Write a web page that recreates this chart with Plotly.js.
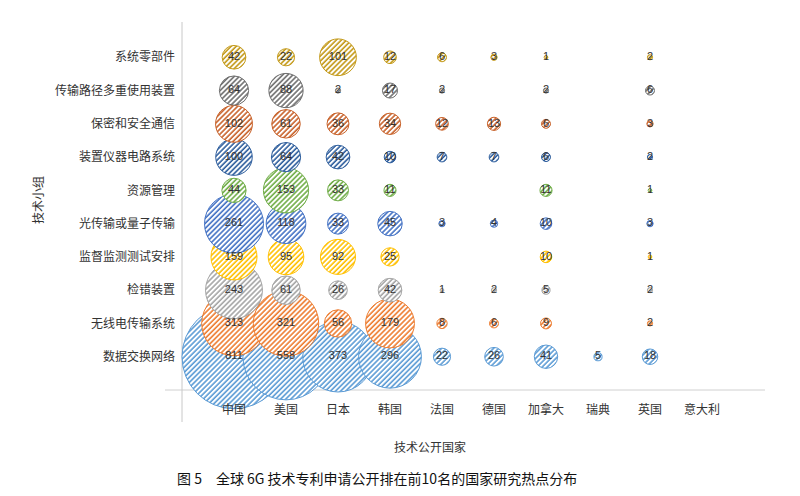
<!DOCTYPE html>
<html>
<head>
<meta charset="utf-8">
<script src="https://cdn.plot.ly/plotly-3.0.1.min.js"></script>
<style>
html,body{margin:0;padding:0;background:#ffffff;}
#chart{width:800px;height:496px;}
</style>
</head>
<body>
<div id="chart"></div>
<script>
// ---------- data ----------
const countries = ['中国','美国','日本','韩国','法国','德国','加拿大','瑞典','英国','意大利'];
// technology groups, bottom row first
const groups = ['数据交换网络','无线电传输系统','检错装置','监督监测测试安排','光传输或量子传输',
                '资源管理','装置仪器电路系统','保密和安全通信','传输路径多重使用装置','系统零部件'];
const dataExchange      = [811,558,373,296,22,26,41,5,18,null];
const radioTransmission = [313,321,56,179,8,6,9,null,2,null];
const errorDetection    = [243,61,26,42,1,2,5,null,2,null];
const monitoringTesting = [159,95,92,25,null,null,10,null,1,null];
const opticalQuantum    = [261,118,33,45,3,4,10,null,3,null];
const resourceMgmt      = [44,153,33,11,null,null,11,null,1,null];
const deviceCircuit     = [100,64,42,10,7,7,6,null,2,null];
const secureComm        = [102,61,36,34,12,13,6,null,3,null];
const multiplexing      = [64,88,2,17,2,null,2,null,6,null];
const systemParts       = [42,22,101,12,6,3,1,null,2,null];
const seriesValues = [dataExchange, radioTransmission, errorDetection, monitoringTesting, opticalQuantum,
                      resourceMgmt, deviceCircuit, secureComm, multiplexing, systemParts];

// ---------- styles ----------
const colors = ['#5B9BD5','#ED7D31','#A5A5A5','#FFC000','#4472C4',
                '#70AD47','#2F5F9E','#C8622A','#6E6E6E','#C49A1A'];
const maxDiameter = 104;
const maxValue = 811;
const sizeref = 2 * maxValue / (maxDiameter * maxDiameter);

const markerTraces = [];
const textTraces = [];
seriesValues.forEach(function(vals, gi){
  const xs = [], ys = [], ss = [], ts = [];
  vals.forEach(function(v, ci){
    if (v === null || v === undefined) return;
    xs.push(ci + 1); ys.push(gi + 1); ss.push(v); ts.push(String(v));
  });
  markerTraces.push({
    type:'scatter', mode:'markers', name: groups[gi],
    x: xs, y: ys, hoverinfo:'skip', cliponaxis:false, showlegend:false,
    marker:{size: ss, sizemode:'area', sizeref: sizeref, sizemin:0,
            color: colors[gi], opacity:1, line:{color: colors[gi], width:1}}
  });
  textTraces.push({
    type:'scatter', mode:'text', name: groups[gi] + ' 标签',
    x: xs, y: ys, text: ts, hoverinfo:'skip', cliponaxis:false, showlegend:false,
    textposition:'middle center',
    textfont:{family:'Liberation Sans, Arial, sans-serif', size:11, color:'#333333'}
  });
});

const W = 572, H = 366, L = 182, T = 24;
function px(xp){ return (xp - L) / W; }
function py(yp){ return (T + H - yp) / H; }

const cjk = '"Noto Sans CJK SC", "Noto Sans", sans-serif';
const layout = {
  width:800, height:496,
  margin:{l:L, r:800 - L - W, t:T, b:496 - T - H},
  paper_bgcolor:'#ffffff', plot_bgcolor:'#ffffff',
  showlegend:false,
  xaxis:{range:[0,11], tickvals:countries.map((c,i)=>i+1), ticktext:countries,
         showgrid:false, zeroline:false, showline:false, ticks:'', ticklabelstandoff:11,
         tickfont:{family:cjk, size:12, color:'#333333'}, fixedrange:true},
  yaxis:{range:[0,11], tickvals:groups.map((g,i)=>i+1), ticktext:groups,
         showgrid:false, zeroline:false, showline:false, ticks:'', ticklabelstandoff:6,
         tickfont:{family:cjk, size:12, color:'#333333'}, fixedrange:true},
  shapes:[
    {type:'line', xref:'paper', yref:'paper', x0:px(165), x1:px(765), y0:0, y1:0,
     line:{color:'#d0d0d0', width:1}, layer:'below'},
    {type:'line', xref:'paper', yref:'paper', x0:0, x1:0, y0:py(422), y1:py(22),
     line:{color:'#c8c8c8', width:1}, layer:'below'}
  ],
  annotations:[
    {text:'技术公开国家', xref:'paper', yref:'paper', x:px(430), y:py(446),
     xanchor:'center', yanchor:'middle', showarrow:false,
     font:{family:cjk, size:12, color:'#333333'}},
    {text:'技术小组', xref:'paper', yref:'paper', x:px(37), y:py(200), textangle:-90,
     xanchor:'center', yanchor:'middle', showarrow:false,
     font:{family:cjk, size:12, color:'#333333'}},
    {text:'图 5　全球 6G 技术专利申请公开排在前10名的国家研究热点分布', xref:'paper', yref:'paper',
     x:px(175), y:py(478), xanchor:'left', yanchor:'middle', showarrow:false,
     font:{family:cjk, size:14, color:'#111111'}}
  ]
};

const gd = document.getElementById('chart');

function applyPatterns(){
  const svg = gd.querySelector('svg.main-svg');
  if (!svg) return;
  const ns = 'http://www.w3.org/2000/svg';
  let defs = svg.querySelector('defs#hatchdefs');
  if (!defs){
    defs = document.createElementNS(ns, 'defs');
    defs.setAttribute('id', 'hatchdefs');
    colors.forEach(function(c, i){
      const p = document.createElementNS(ns, 'pattern');
      p.setAttribute('id', 'hatch' + i);
      p.setAttribute('patternUnits', 'userSpaceOnUse');
      p.setAttribute('width', '3.6'); p.setAttribute('height', '3.6');
      p.setAttribute('patternTransform', 'rotate(45)');
      const r = document.createElementNS(ns, 'rect');
      r.setAttribute('width', '3.6'); r.setAttribute('height', '3.6'); r.setAttribute('fill', '#ffffff');
      const l = document.createElementNS(ns, 'line');
      l.setAttribute('x1', '1'); l.setAttribute('y1', '0'); l.setAttribute('x2', '1'); l.setAttribute('y2', '3.6');
      l.setAttribute('stroke', c); l.setAttribute('stroke-width', '1.6');
      p.appendChild(r); p.appendChild(l); defs.appendChild(p);
    });
    svg.insertBefore(defs, svg.firstChild);
  }
  const groupsEls = gd.querySelectorAll('.scatterlayer .trace');
  groupsEls.forEach(function(g, ti){
    if (ti >= markerTraces.length) return;
    g.querySelectorAll('path.point').forEach(function(pt){
      pt.style.fill = 'url(#hatch' + ti + ')';
      pt.style.fillOpacity = '1';
    });
  });
}

Plotly.newPlot(gd, markerTraces.concat(textTraces), layout, {staticPlot:true, displayModeBar:false})
  .then(applyPatterns);
gd.on('plotly_afterplot', applyPatterns);
</script>
</body>
</html>
